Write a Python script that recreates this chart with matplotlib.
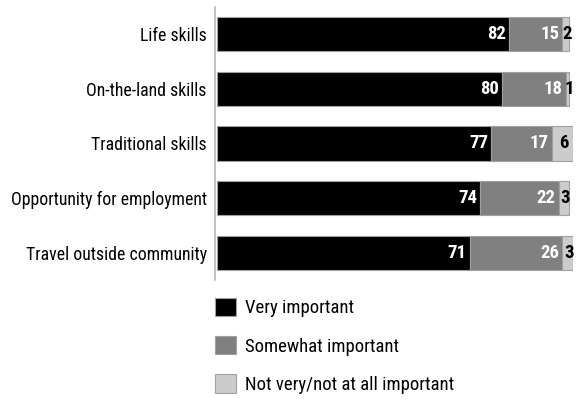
import matplotlib
matplotlib.use("Agg")
import matplotlib.pyplot as plt
from matplotlib.patches import Patch
import numpy as np

plt.rcParams['font.family'] = ['Roboto Condensed', 'DejaVu Sans']

categories = ["Life skills", "On-the-land skills", "Traditional skills",
              "Opportunity for employment", "Travel outside community"]
very = [82, 80, 77, 74, 71]
somewhat = [15, 18, 17, 22, 26]
not_very = [2, 1, 6, 3, 3]
series_names = ["Very important", "Somewhat important", "Not very/not at all important"]
colors = ["#000000", "#808080", "#cccccc"]

fig = plt.figure(figsize=(5.78, 3.99), dpi=100)
ax = fig.add_axes([215 / 578, 1 - 280 / 399, 358 / 578, 273 / 399])

y = np.arange(len(categories))
left = np.zeros(len(categories))
for vals, col in zip([very, somewhat, not_very], colors):
    ax.barh(y, vals, left=left, height=0.63, color=col, edgecolor="#a0a0a0", linewidth=0.8)
    left += np.array(vals)

# value labels: white inside the first two segments, black on the last
for i in range(len(categories)):
    ax.text(very[i] - 0.9, i, str(very[i]), ha="right", va="center",
            color="white", fontsize=13.5, fontweight="bold")
    ax.text(very[i] + somewhat[i] - 0.9, i, str(somewhat[i]), ha="right", va="center",
            color="white", fontsize=13.5, fontweight="bold")
    ax.text(very[i] + somewhat[i] + not_very[i] / 2 + 0.4, i, str(not_very[i]),
            ha="center", va="center", color="black", fontsize=13.5, fontweight="bold")

ax.set_xlim(-0.6, 100)
ax.set_ylim(len(categories) - 0.5, -0.5)
ax.set_yticks(y)
ax.set_yticklabels(categories, fontsize=12.8)
ax.tick_params(axis="y", length=0, pad=6)
ax.set_xticks([])
for s in ["top", "right", "bottom"]:
    ax.spines[s].set_visible(False)
ax.spines["left"].set_color("#b0b0b0")
ax.spines["left"].set_linewidth(1.1)

handles = [Patch(facecolor=c, edgecolor="#a0a0a0", linewidth=0.8) for c in colors]
fig.legend(handles, series_names, loc="upper left", bbox_to_anchor=(215 / 578, 1 - 298 / 399),
           frameon=False, fontsize=13.5, handlelength=1.12, handleheight=1.12,
           labelspacing=1.0, handletextpad=0.48, borderpad=0, borderaxespad=0)

fig.savefig("out.png", dpi=100)
